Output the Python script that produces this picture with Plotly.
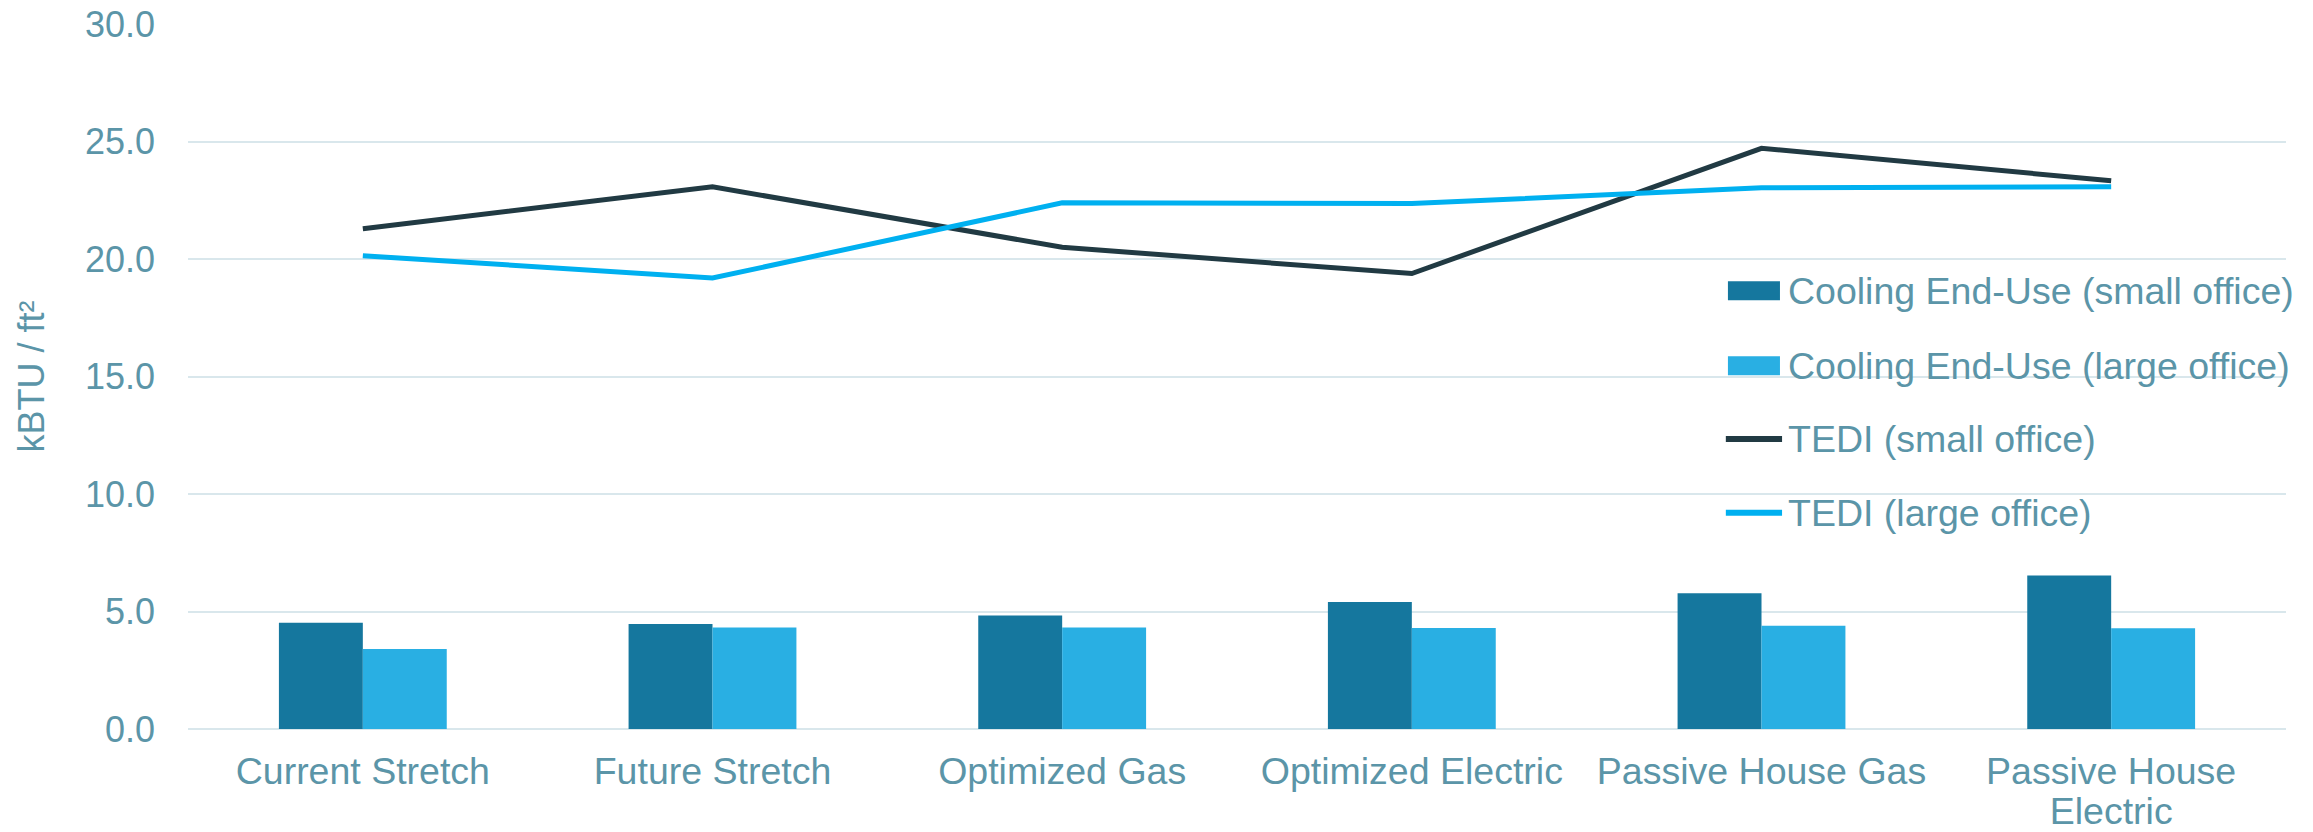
import plotly.graph_objects as go

categories = ["Current Stretch", "Future Stretch", "Optimized Gas", "Optimized Electric",
              "Passive House Gas", "Passive House<br>Electric"]
cooling_small = [4.52, 4.47, 4.83, 5.40, 5.78, 6.53]
cooling_large = [3.40, 4.32, 4.32, 4.30, 4.39, 4.29]
tedi_small = [21.29, 23.07, 20.50, 19.38, 24.71, 23.33]
tedi_large = [20.14, 19.19, 22.39, 22.36, 23.03, 23.07]
y_ticks = [0, 5, 10, 15, 20, 25, 30]

series_names = ["Cooling End-Use (small office)", "Cooling End-Use (large office)",
                "TEDI (small office)", "TEDI (large office)"]
series_colors = ["#15779E", "#29AFE3", "#213A43", "#00B0F0"]
series_kinds = ["bar", "bar", "line", "line"]

text_color = "#5B95A8"
grid_color = "#D9E7EC"

fig = go.Figure()
fig.add_trace(go.Bar(x=categories, y=cooling_small, name=series_names[0],
                     marker=dict(color=series_colors[0], line=dict(width=0)), showlegend=False))
fig.add_trace(go.Bar(x=categories, y=cooling_large, name=series_names[1],
                     marker=dict(color=series_colors[1], line=dict(width=0)), showlegend=False))
fig.add_trace(go.Scatter(x=categories, y=tedi_small, name=series_names[2], mode="lines",
                         line=dict(color=series_colors[2], width=5), showlegend=False))
fig.add_trace(go.Scatter(x=categories, y=tedi_large, name=series_names[3], mode="lines",
                         line=dict(color=series_colors[3], width=5), showlegend=False))

# Legend drawn in plot-area (paper) coordinates: wide swatches like the original
leg_x0, leg_x1, leg_tx = 0.7340, 0.7588, 0.7622
leg_y = [0.6217, 0.5153, 0.4113, 0.3068]
half_h = 0.0135
for name, color, kind, yy in zip(series_names, series_colors, series_kinds, leg_y):
    if kind == "bar":
        fig.add_shape(type="rect", xref="paper", yref="paper", x0=leg_x0, x1=leg_x1,
                      y0=yy - half_h, y1=yy + half_h, fillcolor=color, line=dict(width=0))
    else:
        fig.add_shape(type="line", xref="paper", yref="paper", x0=leg_x0 - 0.001, x1=leg_x1 + 0.001,
                      y0=yy, y1=yy, line=dict(color=color, width=6))
    fig.add_annotation(x=leg_tx, y=yy, xref="paper", yref="paper", text=name, showarrow=False,
                       xanchor="left", yanchor="middle", borderpad=0,
                       font=dict(size=37.5, color=text_color))

tick_text = ["<br>".join(f'<span style="font-size:37.5px">{part}</span>' for part in c.split("<br>"))
             for c in categories]

fig.update_layout(
    width=2305, height=824,
    paper_bgcolor="white", plot_bgcolor="white",
    margin=dict(l=180, r=27, t=16, b=103),
    barmode="group", bargap=0.52, bargroupgap=0,
    font=dict(family="Liberation Sans, Arial, sans-serif", color=text_color, size=36),
    showlegend=False,
    xaxis=dict(showgrid=False, showline=False, ticks="", automargin=False,
               tickmode="array", tickvals=categories, ticktext=tick_text, tickangle=0,
               ticklabelstandoff=23, ticklabeloverflow="allow",
               tickfont=dict(size=31, color=text_color)),
    yaxis=dict(range=[0, 30], tickvals=y_ticks, tickformat=".1f", automargin=False,
               showgrid=True, gridcolor=grid_color, gridwidth=2,
               zeroline=True, zerolinecolor=grid_color, zerolinewidth=2,
               showline=False, ticks="", ticklabelstandoff=32, ticklabeloverflow="allow",
               tickfont=dict(size=36, color=text_color),
               title=dict(text="kBTU / ft²", font=dict(size=36, color=text_color), standoff=29)),
)

fig.write_html("out.html")
